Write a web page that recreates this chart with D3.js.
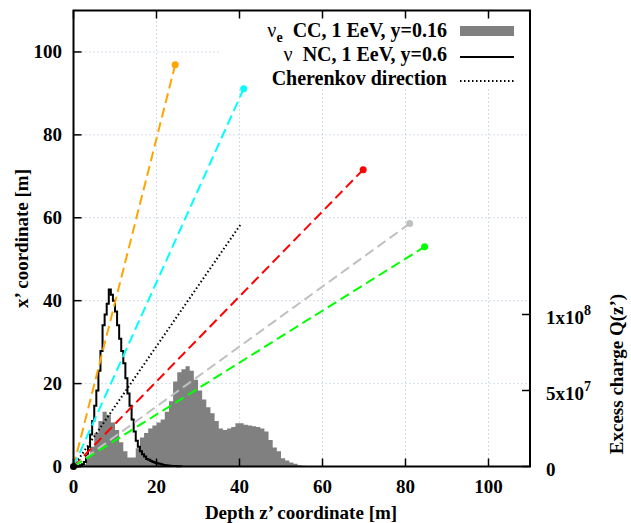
<!DOCTYPE html>
<html>
<head>
<meta charset="utf-8">
<script src="https://cdn.jsdelivr.net/npm/d3@7"></script>
<style>
  body { margin: 0; background: #fff; }
  text { font-family: "Liberation Serif", "Times New Roman", serif; font-weight: bold; fill: #000; }
</style>
</head>
<body>
<div id="chart"></div>
<script>
const width = 631, height = 523;

// nu_e CC excess charge, 1 m bins starting at z'=0 (units of 1e7)
const ccBinWidth = 1;
const ccCharge = [
    0, 0, 0.15, 0.6, 1.3, 2.2, 3.0, 3.6, 3.4, 2.9,
    2.4, 1.6, 1.0, 0.6, 0.6, 1.2, 1.9, 2.2, 2.5, 2.7,
    2.9, 3.1, 3.6, 4.3, 5.6, 6.2, 6.4, 6.6, 6.3, 5.7,
    5.0, 4.4, 3.9, 3.5, 3.0, 2.5, 2.4, 2.5, 2.6, 2.85,
    2.85, 2.75, 2.7, 2.65, 2.6, 2.5, 2.3, 1.75, 1.25, 1.0,
    0.55, 0.4, 0.26, 0.18, 0.08, 0.05, 0.04, 0.04, 0.03, 0.03,
    0.03, 0.03, 0.03, 0.03, 0.03, 0.03, 0.03, 0.03, 0.03, 0.03,
    0.03, 0.03, 0.03, 0.03, 0.03, 0.03, 0.03, 0.03, 0.03, 0.03,
    0.03, 0.03, 0.03, 0.03, 0.03, 0.03, 0.03, 0.03, 0.03, 0.03,
    0.03, 0.03, 0.03, 0.03, 0.03, 0.03, 0.03, 0.03
];

// nu NC excess charge, 0.5 m bins starting at z'=0 (units of 1e7)
const ncBinWidth = 0.5;
const ncCharge = [
    0, 0, 0.02, 0.08, 0.15, 0.3, 0.7, 1.3, 2.1, 3.0,
    4.0, 5.0, 6.3, 7.6, 9.3, 10.0, 10.7, 11.65, 11.3, 10.9,
    10.2, 9.3, 8.4, 7.6, 6.8, 5.8, 4.8, 4.0, 3.1, 2.3,
    1.7, 1.3, 1.0, 0.8, 0.65, 0.5, 0.44, 0.36, 0.3, 0.25,
    0.22, 0.18, 0.14, 0.1, 0.08, 0.06, 0.05, 0.04, 0.03, 0.03,
    0.02, 0.02
];

// rays from the vertex
const rayColors = ['#ffa500', '#00ffff', '#ff0000', '#c0c0c0', '#00ff00'];
const rayEndZ = [24.5, 41, 69.8, 81, 84.6];
const rayEndX = [96.9, 91.1, 71.6, 58.6, 53];
const cherenkovEnd = [40.2, 58.3];

const xTicks = [0, 20, 40, 60, 80, 100];
const yTicks = [0, 20, 40, 60, 80, 100];
const qTicks = [0, 5e7, 1e8];
const qTickLabels = [['0', ''], ['5x10', '7'], ['1x10', '8']];

const legendLabels = ['CC, 1 EeV, y=0.16', 'NC, 1 EeV, y=0.6', 'Cherenkov direction'];

const pLeft = 73.5, pRight = 530, pTop = 10.5, pBottom = 466.5;

const x = d3.scaleLinear().domain([0, 110]).range([pLeft, pRight]);
const y = d3.scaleLinear().domain([0, 110]).range([pBottom, pTop]);
const yq = d3.scaleLinear().domain([0, 3e8]).range([pBottom, pTop]);

let svg = d3.select('#chart')
    .append('svg')
      .attr('width', width)
      .attr('height', height);

// grid
const gridColor = '#a9bbd3';
svg.append('g').selectAll('line')
    .data(xTicks.filter(d => d > 0))
    .enter().append('line')
      .attr('x1', d => x(d)).attr('x2', d => x(d))
      .attr('y1', pBottom).attr('y2', pTop)
      .attr('stroke', gridColor).attr('stroke-width', 1)
      .attr('stroke-dasharray', '1,3');
svg.append('g').selectAll('line')
    .data(yTicks.filter(d => d > 0))
    .enter().append('line')
      .attr('x1', pLeft).attr('x2', pRight)
      .attr('y1', d => y(d)).attr('y2', d => y(d))
      .attr('stroke', gridColor).attr('stroke-width', 1)
      .attr('stroke-dasharray', '1,3');

// legend background hides the grid
svg.append('rect')
    .attr('x', 220).attr('y', pTop + 1)
    .attr('width', pRight - 221).attr('height', 76)
    .attr('fill', '#fff');

// CC histogram
const ccPts = ccCharge.map((v, i) => [i * ccBinWidth, v * 1e7]);
ccPts.push([ccCharge.length * ccBinWidth, 0]);
svg.append('path')
    .datum(ccPts)
    .attr('fill', '#808080')
    .attr('d', d3.area()
        .x(d => x(d[0]))
        .y0(pBottom)
        .y1(d => yq(d[1]))
        .curve(d3.curveStepAfter));

// NC histogram outline
const ncPts = ncCharge.map((v, i) => [i * ncBinWidth, v * 1e7]);
ncPts.push([ncCharge.length * ncBinWidth, 0]);
svg.append('path')
    .datum(ncPts)
    .attr('fill', 'none')
    .attr('stroke', '#000')
    .attr('stroke-width', 2)
    .attr('d', d3.line()
        .x(d => x(d[0]))
        .y(d => yq(d[1]))
        .curve(d3.curveStepAfter));

// Cherenkov direction
svg.append('line')
    .attr('x1', x(0)).attr('y1', y(0))
    .attr('x2', x(cherenkovEnd[0])).attr('y2', y(cherenkovEnd[1]))
    .attr('stroke', '#000').attr('stroke-width', 2)
    .attr('stroke-dasharray', '1.5,2.5');

// rays
rayColors.forEach((c, i) => {
    svg.append('line')
        .attr('x1', x(0)).attr('y1', y(0))
        .attr('x2', x(rayEndZ[i])).attr('y2', y(rayEndX[i]))
        .attr('stroke', c).attr('stroke-width', 2)
        .attr('stroke-dasharray', '10,5');
    svg.append('circle')
        .attr('cx', x(rayEndZ[i])).attr('cy', y(rayEndX[i]))
        .attr('r', 3.5).attr('fill', c);
});

// vertex
svg.append('circle')
    .attr('cx', x(0)).attr('cy', y(0))
    .attr('r', 3.5).attr('fill', '#000');

// frame
svg.append('rect')
    .attr('x', pLeft).attr('y', pTop)
    .attr('width', pRight - pLeft).attr('height', pBottom - pTop)
    .attr('fill', 'none').attr('stroke', '#000').attr('stroke-width', 2);

// ticks (inward, mirrored on top)
const tk = 8;
let ticks = svg.append('g').attr('stroke', '#000').attr('stroke-width', 1.5);
xTicks.forEach(t => {
    ticks.append('line').attr('x1', x(t)).attr('x2', x(t)).attr('y1', pBottom).attr('y2', pBottom - tk);
    ticks.append('line').attr('x1', x(t)).attr('x2', x(t)).attr('y1', pTop).attr('y2', pTop + tk);
});
yTicks.forEach(t => {
    ticks.append('line').attr('x1', pLeft).attr('x2', pLeft + tk).attr('y1', y(t)).attr('y2', y(t));
});
qTicks.forEach(t => {
    ticks.append('line').attr('x1', pRight).attr('x2', pRight - tk).attr('y1', yq(t)).attr('y2', yq(t));
});

// tick labels
svg.append('g').selectAll('text')
    .data(xTicks)
    .enter().append('text')
      .attr('x', d => x(d)).attr('y', 493)
      .attr('text-anchor', 'middle')
      .style('font-size', '19px')
      .text(d => d);
svg.append('g').selectAll('text')
    .data(yTicks)
    .enter().append('text')
      .attr('x', 62).attr('y', d => y(d) + 6.5)
      .attr('text-anchor', 'end')
      .style('font-size', '19px')
      .text(d => d);
qTicks.forEach((t, i) => {
    let tx = svg.append('text')
        .attr('x', 546).attr('y', yq(t) + 9)
        .style('font-size', '19px');
    tx.append('tspan').text(qTickLabels[i][0]);
    if (qTickLabels[i][1]) {
        tx.append('tspan').attr('dy', -9).style('font-size', '14px').text(qTickLabels[i][1]);
    }
});

// axis titles
svg.append('text')
    .attr('x', 301).attr('y', 519)
    .attr('text-anchor', 'middle')
    .style('font-size', '19px')
    .text('Depth z\u2019 coordinate [m]');
svg.append('text')
    .attr('transform', `translate(28,${(pTop + pBottom) / 2}) rotate(-90)`)
    .attr('text-anchor', 'middle')
    .style('font-size', '19px')
    .text('x\u2019 coordinate [m]');
svg.append('text')
    .attr('transform', 'translate(623,374) rotate(-90)')
    .attr('text-anchor', 'middle')
    .style('font-size', '19px')
    .text('Excess charge Q(z\u2019)');

// legend
const legY = [31, 55, 79];
const lx = 447;
const legFont = '20px';
let l1 = svg.append('text').attr('x', lx).attr('y', legY[0] + 6).attr('text-anchor', 'end').style('font-size', legFont);
l1.append('tspan').style('font-weight', 'normal').text('\u03bd');
l1.append('tspan').attr('dy', 5).style('font-size', '14px').text('e');
l1.append('tspan').attr('dy', -5).text('\u2002' + legendLabels[0]);
let l2 = svg.append('text').attr('x', lx).attr('y', legY[1] + 6).attr('text-anchor', 'end').style('font-size', legFont);
l2.append('tspan').style('font-weight', 'normal').text('\u03bd');
l2.append('tspan').text('\u2002' + legendLabels[1]);
svg.append('text').attr('x', lx).attr('y', legY[2] + 6).attr('text-anchor', 'end').style('font-size', legFont)
    .text(legendLabels[2]);

svg.append('rect').attr('x', 460).attr('y', legY[0] - 5).attr('width', 54).attr('height', 10).attr('fill', '#808080');
svg.append('line').attr('x1', 460).attr('x2', 514).attr('y1', legY[1] + 2).attr('y2', legY[1] + 2)
    .attr('stroke', '#000').attr('stroke-width', 2);
svg.append('line').attr('x1', 460).attr('x2', 514).attr('y1', legY[2] + 2).attr('y2', legY[2] + 2)
    .attr('stroke', '#000').attr('stroke-width', 2).attr('stroke-dasharray', '1.5,2.5');
</script>
</body>
</html>
